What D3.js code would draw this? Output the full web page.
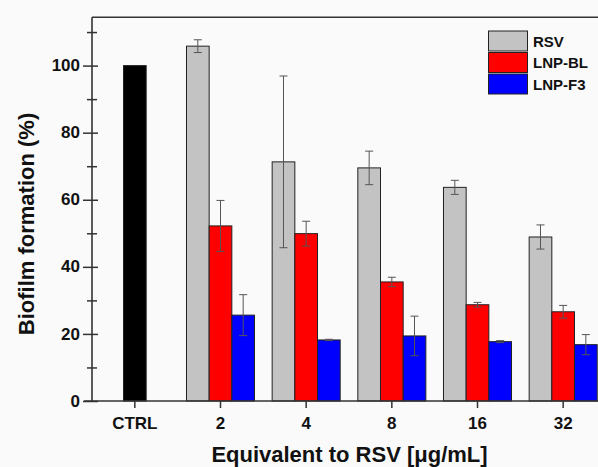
<!DOCTYPE html>
<html><head><meta charset="utf-8">
<script src="https://cdn.jsdelivr.net/npm/d3@7"></script>
<style>
html,body{margin:0;padding:0;background:#fafafa;overflow:hidden;}
svg{display:block;}
text{font-family:Arial,"Liberation Sans",sans-serif;font-weight:bold;fill:#111;}
</style></head>
<body>
<svg id="c" width="598" height="467"></svg>
<script>
const categories = ["CTRL","2","4","8","16","32"];
const series = ["RSV","LNP-BL","LNP-F3"];
const ctrlValue = 100;
const rsv      = [105.8, 71.3, 69.5, 63.7, 48.9];
const rsvErr   = [1.9, 25.6, 5.0, 2.1, 3.6];
const lnpbl    = [52.2, 49.9, 35.5, 28.7, 26.6];
const lnpblErr = [7.6, 3.7, 1.4, 0.7, 1.9];
const lnpf3    = [25.6, 18.2, 19.4, 17.7, 16.8];
const lnpf3Err = [6.1, 0.2, 5.9, 0.3, 3.0];
const yMajor = [0,20,40,60,80,100];
const yMinor = [10,30,50,70,90,110];
const colors = {"RSV":"#c3c3c3","LNP-BL":"#ff0000","LNP-F3":"#0000ff","CTRL":"#000000"};

(function(){
const svg = d3.select("#c");
const pl = 92, pr = 606, pt = 17.3, pb = 401;
const x = d3.scaleBand().domain(categories).range([pl, pr]).paddingInner(0.206).paddingOuter(0.103);
const x1 = d3.scaleBand().domain(series).range([0, x.bandwidth()]);
const y = d3.scaleLinear().domain([0, 114.4]).range([pb, pt]);

const vals = {"RSV":rsv, "LNP-BL":lnpbl, "LNP-F3":lnpf3};
const errs = {"RSV":rsvErr, "LNP-BL":lnpblErr, "LNP-F3":lnpf3Err};

const bars = [];
bars.push({cat:"CTRL", s:"CTRL", v:ctrlValue, e:0, x0: x("CTRL") + x.bandwidth()/2 - x1.bandwidth()/2});
categories.slice(1).forEach((c,i)=>{
  series.forEach(s=>{
    bars.push({cat:c, s:s, v:vals[s][i], e:errs[s][i], x0: x(c)+x1(s)});
  });
});
const g = svg.append("g");
g.selectAll("rect.bar").data(bars).join("rect")
  .attr("class","bar")
  .attr("x", d=>d.x0).attr("width", x1.bandwidth())
  .attr("y", d=>y(d.v)).attr("height", d=>y(0)-y(d.v))
  .attr("fill", d=>colors[d.s]).attr("stroke","#222").attr("stroke-width",1);

const eb = bars.filter(d=>d.e>0);
const eg = g.selectAll("g.err").data(eb).join("g").attr("class","err")
  .attr("stroke","#555").attr("stroke-width",1);
const cx = d=>d.x0+x1.bandwidth()/2;
eg.append("line").attr("x1",cx).attr("x2",cx)
  .attr("y1",d=>y(d.v+d.e)).attr("y2",d=>y(d.v-d.e));
eg.append("line").attr("x1",d=>cx(d)-4).attr("x2",d=>cx(d)+4)
  .attr("y1",d=>y(d.v+d.e)).attr("y2",d=>y(d.v+d.e));
eg.append("line").attr("x1",d=>cx(d)-4).attr("x2",d=>cx(d)+4)
  .attr("y1",d=>y(d.v-d.e)).attr("y2",d=>y(d.v-d.e));

const ya = svg.append("g").attr("transform",`translate(${pl},0)`)
  .call(d3.axisLeft(y).tickValues(yMajor).tickSize(9).tickSizeOuter(0).tickFormat(d3.format("d")));
ya.select(".domain").remove();
ya.selectAll(".tick line").attr("x1",6).attr("x2",-9).attr("stroke","#333").attr("stroke-width",1.5);
ya.selectAll(".tick text").attr("x",-12).attr("dy","0.3em").style("font-size","17px").attr("fill","#111");
const ym = svg.append("g").attr("transform",`translate(${pl},0)`)
  .call(d3.axisLeft(y).tickValues(yMinor).tickSize(5).tickFormat(""));
ym.select(".domain").remove();
ym.selectAll(".tick line").attr("x1",5).attr("x2",-5).attr("stroke","#333").attr("stroke-width",1.5);

const xa = svg.append("g").attr("transform",`translate(0,${pb})`)
  .call(d3.axisBottom(x).tickSize(7).tickSizeOuter(0));
xa.select(".domain").remove();
xa.selectAll(".tick line").attr("stroke","#333").attr("stroke-width",1.5);
xa.selectAll(".tick text").attr("y",28).attr("dy",0).style("font-size","17px").attr("fill","#111");

svg.append("line").attr("x1",84).attr("x2",pr).attr("y1",pb).attr("y2",pb).attr("stroke","#333").attr("stroke-width",1.6);
svg.append("line").attr("x1",pl).attr("x2",pl).attr("y1",pt).attr("y2",pb).attr("stroke","#333").attr("stroke-width",1.6);
svg.append("line").attr("x1",pl).attr("x2",pr).attr("y1",pt).attr("y2",pt).attr("stroke","#333").attr("stroke-width",1.6);

svg.append("text").attr("transform","translate(34,224) rotate(-90)").attr("text-anchor","middle")
  .style("font-size","22px").text("Biofilm formation (%)");
svg.append("text").attr("x",349.5).attr("y",461.5).attr("text-anchor","middle")
  .style("font-size","22px").text("Equivalent to RSV [μg/mL]");

const lg = svg.append("g");
series.forEach((s,i)=>{
  const yy = 31 + i*21.5;
  lg.append("rect").attr("x",488.5).attr("y",yy).attr("width",39).attr("height",20)
    .attr("fill",colors[s]).attr("stroke","#222").attr("stroke-width",1);
  lg.append("text").attr("x",533).attr("y",yy+15.5).style("font-size","15px").text(s);
});
})();
</script>
</body></html>
